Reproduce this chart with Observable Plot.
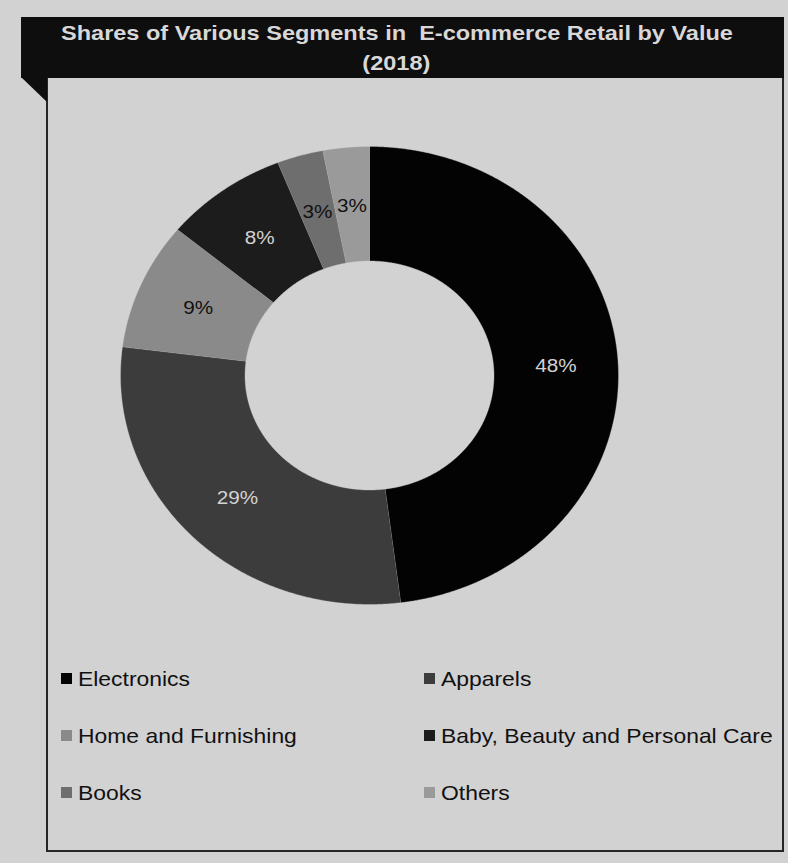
<!DOCTYPE html>
<html>
<head>
<meta charset="utf-8">
<script src="https://cdn.jsdelivr.net/npm/d3@7"></script>
<script src="https://cdn.jsdelivr.net/npm/@observablehq/plot@0.6"></script>
<style>
html, body { margin: 0; padding: 0; background: #d2d2d2; }
#page { position: relative; width: 788px; height: 863px; overflow: hidden; font-family: "Liberation Sans", Arial, sans-serif; background: #d2d2d2; }
#titlebar { position: absolute; left: 21px; top: 17px; width: 763px; height: 61px; background: #0e0e0e; color: #d8d8d8; font-weight: bold; font-size: 21px; }
.tline { position: absolute; left: 0; right: 12px; text-align: center; line-height: 30px; white-space: pre; }
.tline span { display: inline-block; transform: scaleX(1.12); transform-origin: center; }
#fold { position: absolute; left: 21px; top: 77px; width: 26px; height: 25px; background: #0e0e0e; clip-path: polygon(0 0, 100% 0, 100% 100%); }
#box { position: absolute; left: 46px; top: 78px; width: 738px; height: 774px; border: 2px solid #262626; border-top: none; box-sizing: border-box; }
#chart { position: absolute; left: 0; top: 0; }
.leg { position: absolute; font-size: 21px; line-height: 21px; color: #111; white-space: nowrap; transform: scaleX(1.09); transform-origin: left center; }
.sw { position: absolute; width: 11px; height: 11px; }
</style>
</head>
<body>
<div id="page">
  <div id="box"></div>
  <div id="titlebar">
    <div class="tline" style="top:1px"><span id="t1"></span></div>
    <div class="tline" style="top:31px"><span id="t2"></span></div>
  </div>
  <div id="fold"></div>
  <div id="chart"></div>
  <div id="legend"></div>
</div>
<script>
// ---- data ----
const titleLine1 = "Shares of Various Segments in  E-commerce Retail by Value";
const titleLine2 = "(2018)";
const categories = ["Electronics", "Apparels", "Home and Furnishing", "Baby, Beauty and Personal Care", "Books", "Others"];
const shares = [48, 29, 9, 8, 3, 3];

// ---- styles ----
const colors = ["#030303", "#3c3c3c", "#8a8a8a", "#1c1c1c", "#6e6e6e", "#9a9a9a"];
const labelColors = ["#d2d2d2", "#d2d2d2", "#111111", "#d2d2d2", "#111111", "#111111"];

document.getElementById("t1").textContent = titleLine1;
document.getElementById("t2").textContent = titleLine2;

const pie = d3.pie().sort(null).value(d => d.value)(categories.map((name, i) => ({name, value: shares[i], i})));

const inner = 0.5, outer = 1.0;
const pts = [];
for (const s of pie) {
  const a0 = s.startAngle, a1 = s.endAngle;
  const n = Math.max(8, Math.ceil((a1 - a0) / 0.004));
  for (let k = 0; k <= n; k++) {
    const a = a0 + (a1 - a0) * k / n;
    pts.push({name: s.data.name, x: outer * Math.sin(a), y: -outer * Math.cos(a)});
  }
  for (let k = n; k >= 0; k--) {
    const a = a0 + (a1 - a0) * k / n;
    pts.push({name: s.data.name, x: inner * Math.sin(a), y: -inner * Math.cos(a)});
  }
}
const labels = pie.map(s => {
  const m = (s.startAngle + s.endAngle) / 2;
  const r = (inner + outer) / 2;
  return {name: s.data.name, text: s.data.value + "%", x: r * Math.sin(m), y: -r * Math.cos(m), c: labelColors[s.data.i]};
});

const chart = Plot.plot({
  width: 788,
  height: 863,
  margin: 0,
  style: {background: "transparent", fontFamily: "'Liberation Sans', Arial, sans-serif"},
  x: {domain: [-1, 1], range: [120, 618], axis: null},
  y: {domain: [-1, 1], range: [146, 604], axis: null},
  color: {domain: categories, range: colors},
  marks: [
    Plot.line(pts, {x: "x", y: "y", z: "name", fill: "name", stroke: "#cfcfcf", strokeWidth: 0.6, strokeOpacity: 0.6}),
    Plot.text(labels, {x: "x", y: "y", text: "text", fill: "c", fontSize: 19, dy: 1})
  ]
});
// slight horizontal stretch of the slice labels, as in the reference
d3.select(chart).selectAll("text").each(function () {
  const t = this.getAttribute("transform");
  if (t) this.setAttribute("transform", t + " scale(1.09,1)");
});
document.getElementById("chart").appendChild(chart);

// legend
const legend = document.getElementById("legend");
const colX = [61, 424];
const rowY = [678, 735, 792];
categories.forEach((name, i) => {
  const cx = colX[i % 2], cy = rowY[Math.floor(i / 2)];
  const sw = document.createElement("div");
  sw.className = "sw";
  sw.style.left = cx + "px";
  sw.style.top = (cy - 5.5) + "px";
  sw.style.background = colors[i];
  legend.appendChild(sw);
  const t = document.createElement("div");
  t.className = "leg";
  t.style.left = (cx + 17) + "px";
  t.style.top = (cy - 10.5) + "px";
  t.textContent = name;
  legend.appendChild(t);
});
</script>
</body>
</html>
